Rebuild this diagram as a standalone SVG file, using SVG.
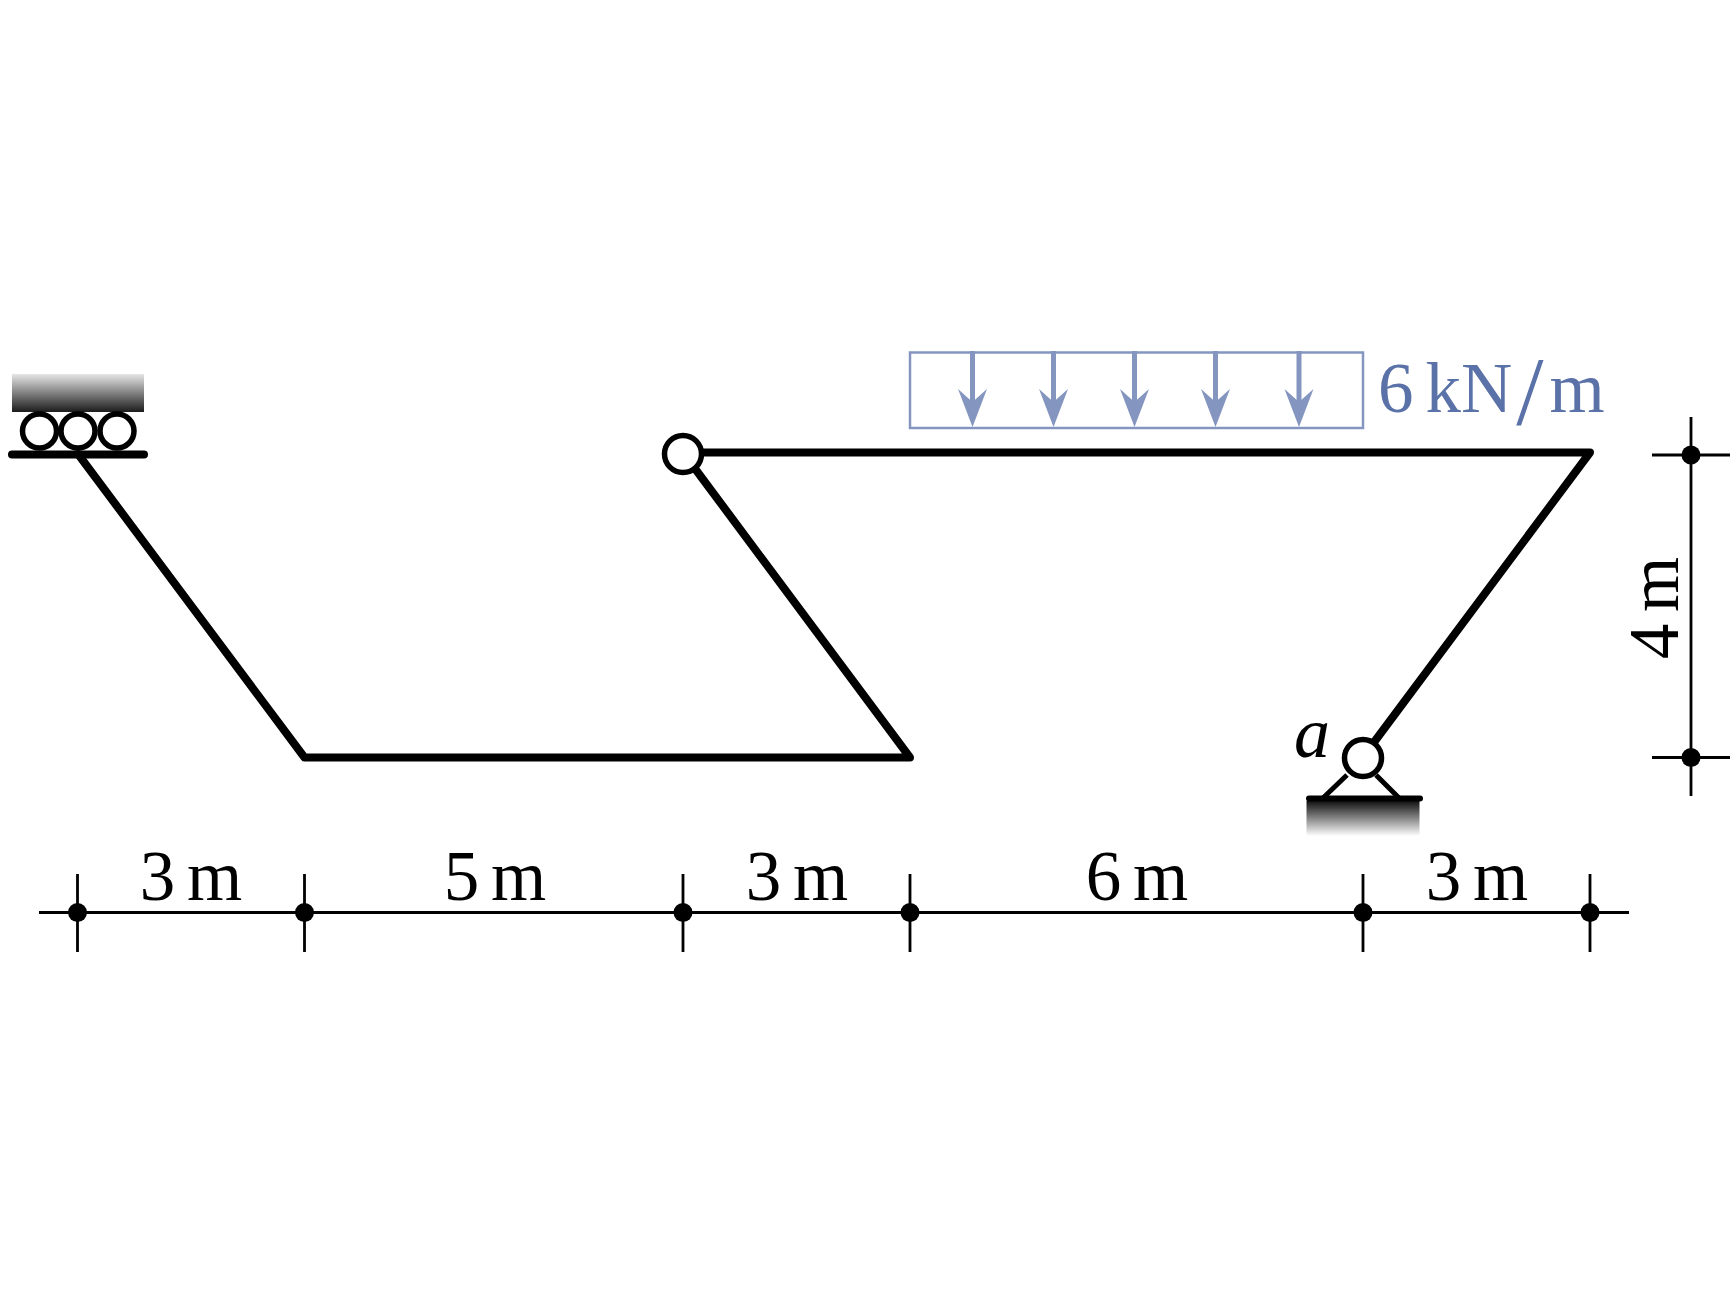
<svg xmlns="http://www.w3.org/2000/svg" width="1736" height="1301" viewBox="0 0 1736 1301">
<style>
.bar{fill:none;stroke:#000;stroke-width:8;stroke-linecap:round;stroke-linejoin:round}
.hinge{fill:#fff;stroke:#000;stroke-width:5.500}
.dim{fill:none;stroke:#000;stroke-width:2.800}
.dot{fill:#000;stroke:none}
.lab{font-family:"Liberation Serif",serif;font-size:71px;text-anchor:middle;fill:#000;word-spacing:-6px}
.load{fill:none;stroke:#8496c0;stroke-width:2.500}
.shaft{stroke:#8496c0;stroke-width:5;fill:none}
.head{fill:#8496c0;stroke:none}
</style>
<defs>
<linearGradient id="gUp" x1="0" y1="0" x2="0" y2="1"><stop offset="0" stop-color="#e6e6e6"/><stop offset="1" stop-color="#1c1c1c"/></linearGradient>
<linearGradient id="gDown" x1="0" y1="0" x2="0" y2="1"><stop offset="0" stop-color="#111"/><stop offset="1" stop-color="#fff"/></linearGradient>
<path id="arrowHead" class="head" d="M0 0 L-14.500 -38 L0 -25 L14.500 -38 Z"/>
</defs>
<g id="connectors">
<path class="bar" d="M78 454 L304.500 757.500 L910 757.500 L683 452.500 L1590 452.500 L1363 757"/>
</g>
<g id="load">
<rect class="load" x="910" y="352.500" width="453" height="75.500"/>
<g id="arrows">
<path class="shaft" d="M972.500 351V405M1053.500 351V405M1134.500 351V405M1215.500 351V405M1299 351V405"/>
<use href="#arrowHead" x="972.500" y="427"/>
<use href="#arrowHead" x="1053.500" y="427"/>
<use href="#arrowHead" x="1134.500" y="427"/>
<use href="#arrowHead" x="1215.500" y="427"/>
<use href="#arrowHead" x="1299" y="427"/>
</g>
<text id="load-label" x="1378" y="412" style="font-family:'Liberation Serif',serif;font-size:71px;fill:#5a72a8">6<tspan dx="12">k</tspan>N<tspan dx="4" font-size="98" dy="12">/</tspan><tspan dy="-12" dx="6">m</tspan></text>
</g>
<g id="roller-support">
<rect x="12" y="374" width="132" height="38" fill="url(#gUp)"/>
<circle class="hinge" cx="39.500" cy="431" r="17"/>
<circle class="hinge" cx="78" cy="431" r="17"/>
<circle class="hinge" cx="117" cy="431" r="17"/>
<path class="bar" d="M12 454.500H144"/>
</g>
<g id="hinge-mid"><circle class="hinge" cx="683" cy="454" r="18.500"/></g>
<g id="pin-support">
<rect x="1306.500" y="801" width="113" height="35" fill="url(#gDown)"/>
<path d="M1323 798L1347 775M1399 798L1376 775" fill="none" stroke="#000" stroke-width="5"/>
<path d="M1309 798.500H1420" fill="none" stroke="#000" stroke-width="6" stroke-linecap="round"/>
<circle class="hinge" cx="1363" cy="758" r="18.500"/>
<text x="1312" y="757" style="font-family:'Liberation Serif',serif;font-style:italic;font-size:72px;fill:#000;text-anchor:middle">a</text>
</g>
<g id="dimension-horizontal">
<path class="dim" d="M39 912.500H1629M77.500 874V952M304.500 874V952M683 874V952M910 874V952M1363 874V952M1590 874V952"/>
<circle class="dot" cx="77.500" cy="912.500" r="9.500"/>
<circle class="dot" cx="304.500" cy="912.500" r="9.500"/>
<circle class="dot" cx="683" cy="912.500" r="9.500"/>
<circle class="dot" cx="910" cy="912.500" r="9.500"/>
<circle class="dot" cx="1363" cy="912.500" r="9.500"/>
<circle class="dot" cx="1590" cy="912.500" r="9.500"/>
<text class="lab" x="191" y="900">3 m</text>
<text class="lab" x="495" y="900">5 m</text>
<text class="lab" x="797" y="900">3 m</text>
<text class="lab" x="1137" y="900">6 m</text>
<text class="lab" x="1477" y="900">3 m</text>
</g>
<g id="dimension-vertical">
<path class="dim" d="M1691 417V796M1652 455H1730M1652 757.500H1730"/>
<circle class="dot" cx="1691" cy="455" r="9.500"/>
<circle class="dot" cx="1691" cy="757.500" r="9.500"/>
<text class="lab" transform="translate(1678 608) rotate(-90)">4 m</text>
</g>
</svg>
